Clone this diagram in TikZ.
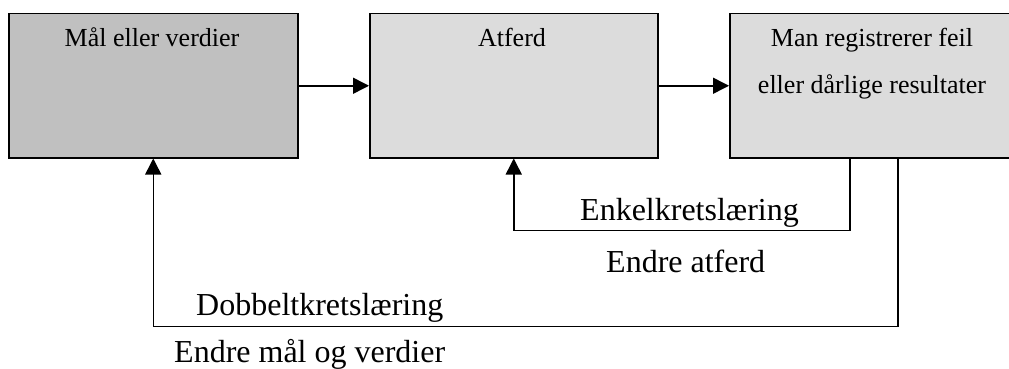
\documentclass[tikz,border=0pt]{standalone}
\usepackage{fontspec}
\setmainfont{Liberation Serif}
\usetikzlibrary{arrows.meta}
\definecolor{boxdark}{HTML}{C0C0C0}
\definecolor{boxlight}{HTML}{DCDCDC}
\begin{document}
\begin{tikzpicture}[x=1pt,y=-1pt,
  box/.style={draw, line width=1.5pt, rectangle, inner sep=0pt, anchor=north west, minimum height=144pt},
  boxtxt/.style={anchor=base, font=\fontsize{26}{30}\selectfont, inner sep=0pt},
  lbl/.style={anchor=base west, font=\fontsize{32}{38}\selectfont, inner sep=0pt},
  conn/.style={line width=1.5pt, -{Triangle[length=16pt,width=16pt]}},
  loopline/.style={line width=1.5pt}]
\useasboundingbox (0,0) rectangle (1009,369);
\clip (0,0) rectangle (1009,369);
\node[box, fill=boxdark, minimum width=289pt] (goal) at (8,13) {};
\node[box, fill=boxlight, minimum width=288pt] (act) at (369,13) {};
\node[box, fill=boxlight, minimum width=284pt] (res) at (729,13) {};
\node[boxtxt] (goalt) at (152,47) {Mål eller verdier};
\node[boxtxt] (actt) at (512,47) {Atferd};
\node[boxtxt] (rest1) at (872,47) {Man registrerer feil};
\node[boxtxt] (rest2) at (872,93) {eller dårlige resultater};
\draw[conn] (goal.east) -- (act.west);
\draw[conn] (act.east) -- (res.west);
\coordinate (enk) at ([xshift=-22pt]res.south);
\coordinate (dob) at ([xshift=26pt]res.south);
\draw[conn] (enk) -- ++(0,72) -| (act.south);
\draw[conn] (dob) -- ++(0,168) -| (goal.south);
\node[lbl] (enkl) at (580,220) {Enkelkretslæring};
\node[lbl] (enka) at (606,272) {Endre atferd};
\node[lbl] (dobl) at (196,315) {Dobbeltkretslæring};
\node[lbl] (doba) at (174,362) {Endre mål og verdier};
\end{tikzpicture}
\end{document}
